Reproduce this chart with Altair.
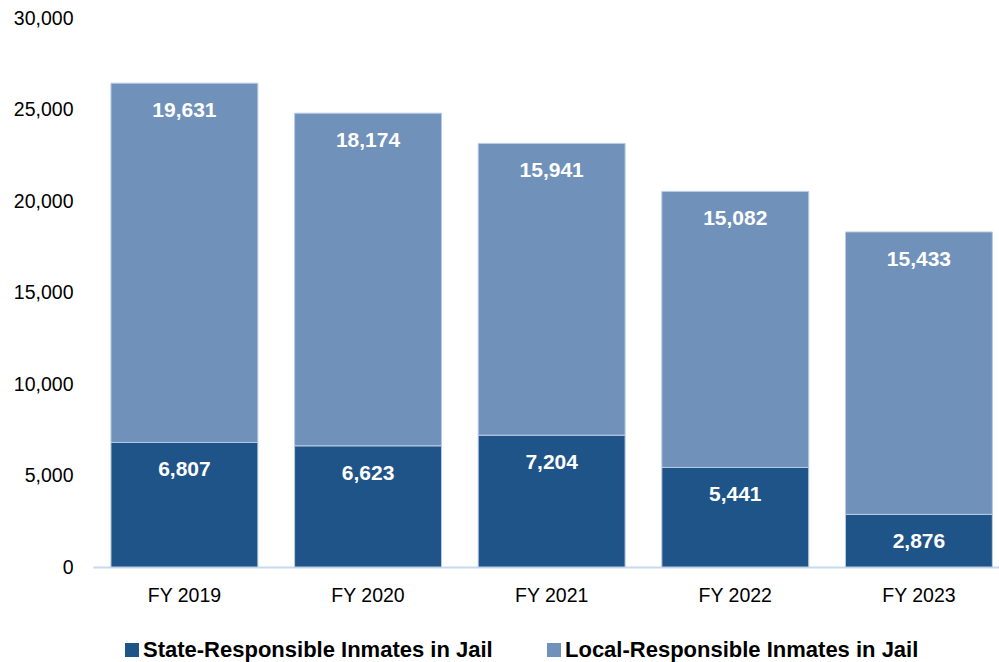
import altair as alt
import pandas as pd

years = ["FY 2019", "FY 2020", "FY 2021", "FY 2022", "FY 2023"]
state_vals = [6807, 6623, 7204, 5441, 2876]
local_vals = [19631, 18174, 15941, 15082, 15433]
series = ["State-Responsible Inmates in Jail", "Local-Responsible Inmates in Jail"]
colors = ["#1F5488", "#6F91BA"]
y_ticks = [0, 5000, 10000, 15000, 20000, 25000, 30000]

rows = []
for y, s, l in zip(years, state_vals, local_vals):
    rows.append({"year": y, "series": series[0], "value": s, "ord": 0, "top": s})
    rows.append({"year": y, "series": series[1], "value": l, "ord": 1, "top": s + l})
df = pd.DataFrame(rows)

FONT = "Liberation Sans, Arial, sans-serif"

base = alt.Chart(df)

x_scale = alt.Scale(paddingInner=0.2, paddingOuter=0.067, align=0.73)
x_axis = alt.Axis(labelAngle=0, ticks=False, domainColor="#C6D9F0", domainWidth=2,
                  labelFont=FONT, labelFontSize=19.5, labelColor="#000000",
                  labelPadding=19, grid=False, title=None)
y_scale = alt.Scale(domain=[0, 30000])
y_axis = alt.Axis(values=y_ticks, format=",.0f", grid=False, domain=False, ticks=False,
                  labelPadding=20, labelFont=FONT, labelFontSize=19.5,
                  labelColor="#000000", title=None)

bars = base.mark_bar(stroke="#B9CBE2", strokeWidth=1).encode(
    x=alt.X("year:N", sort=years, scale=x_scale, axis=x_axis),
    y=alt.Y("value:Q", stack="zero", scale=y_scale, axis=y_axis),
    color=alt.Color("series:N", sort=series,
                    scale=alt.Scale(domain=series, range=colors),
                    legend=alt.Legend(title=None, orient="none", legendX=28, legendY=621,
                                      direction="horizontal", symbolType="square",
                                      symbolSize=196, symbolStrokeWidth=0,
                                      labelFont=FONT, labelFontSize=22, labelFontWeight="bold",
                                      labelColor="#000000", columnPadding=50, labelOffset=0,
                                      labelLimit=500)),
    order=alt.Order("ord:Q"),
)

labels = base.mark_text(font=FONT, fontSize=21, fontWeight="bold", color="white",
                        baseline="middle", dy=28).encode(
    x=alt.X("year:N", sort=years, scale=x_scale, axis=x_axis),
    y=alt.Y("top:Q", scale=y_scale, axis=y_axis),
    text=alt.Text("value:Q", format=",.0f"),
)

chart = alt.layer(bars, labels).properties(
    width=906, height=549,
    autosize=alt.AutoSizeParams(type="none"),
    padding={"left": 93, "top": 18, "right": 0, "bottom": 95},
).configure(background="white").configure_view(stroke=None)

chart.save("out.html", embed_options={"renderer": "svg", "actions": False})
